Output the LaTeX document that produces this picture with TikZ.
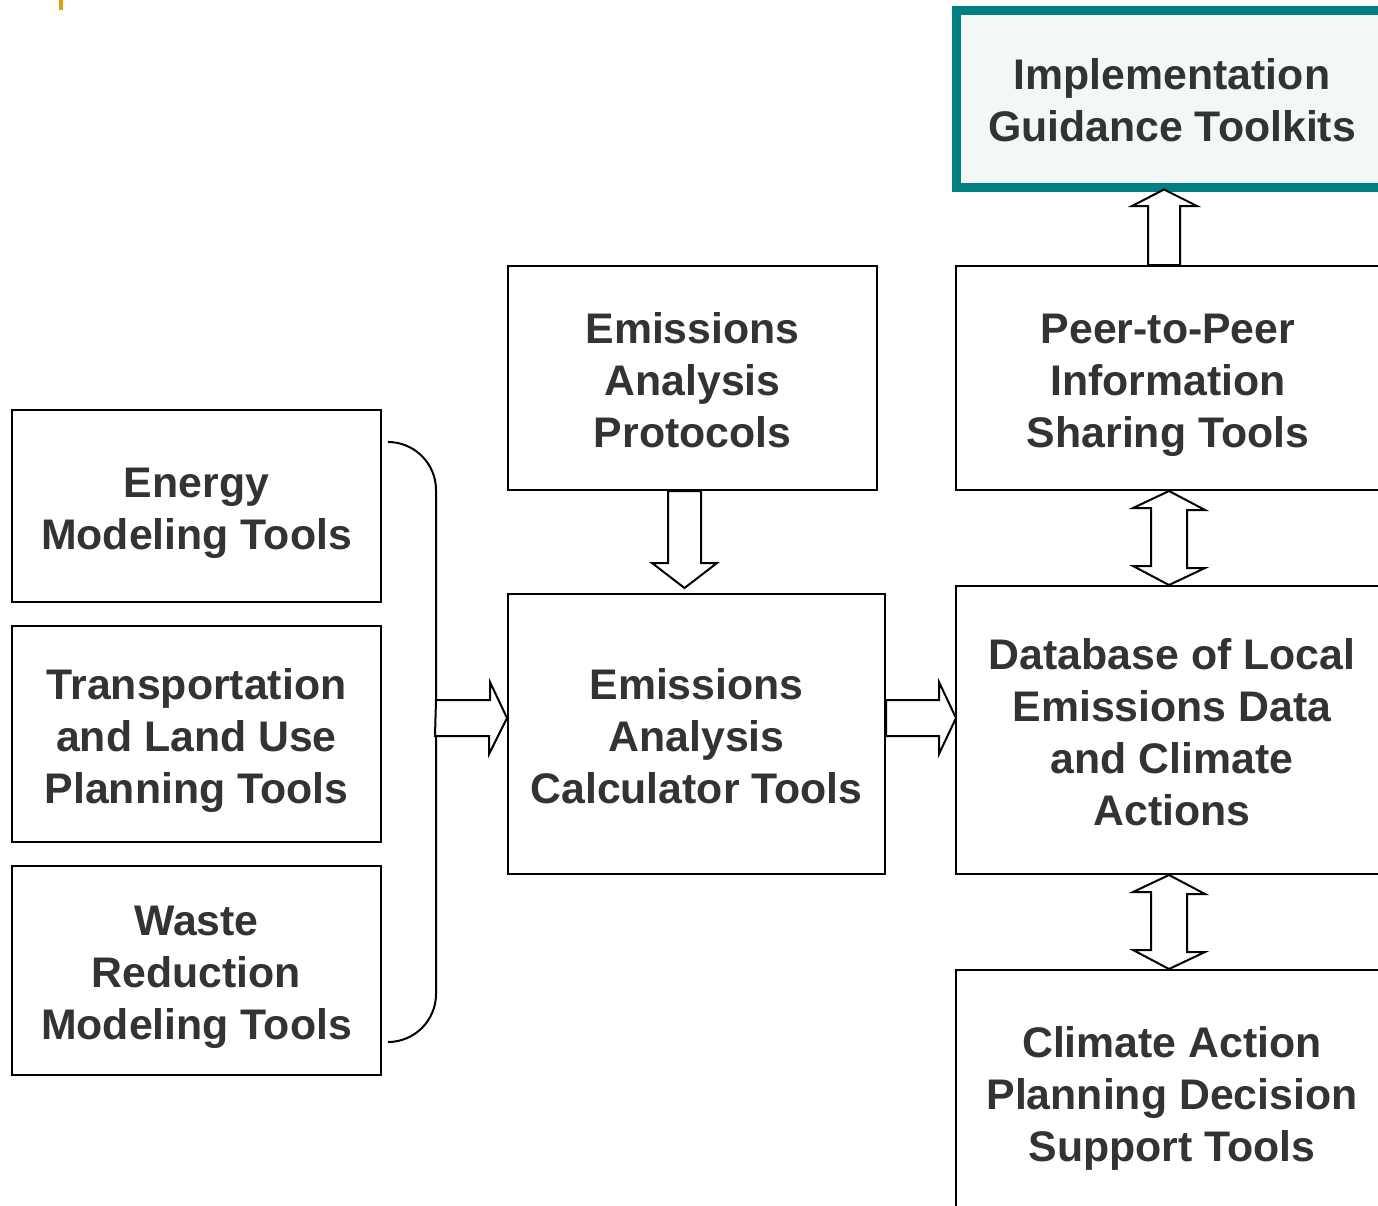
\documentclass[tikz,border=0pt]{standalone}
\usepackage{fontspec}
\setmainfont{Liberation Sans}
\usetikzlibrary{calc}
\definecolor{txtgray}{HTML}{333333}
\definecolor{tealb}{HTML}{008080}
\definecolor{tealfill}{HTML}{F2F8F8}
\definecolor{goldmark}{HTML}{D6A40C}
\newcommand{\topst}{\rule{0pt}{21.6pt}}
\newcommand{\botst}{\rule[-4.6pt]{0pt}{0pt}}
\tikzset{
  box/.style={draw=black, line width=1pt, fill=white, align=center, text=txtgray,
    font=\fontsize{21.4}{26}\selectfont\bfseries, inner sep=0pt},
  barrow/.style={draw=black, line width=1pt, fill=white, line join=miter},
  brk/.style={draw=black, line width=1pt}
}
\begin{document}
\begin{tikzpicture}[x=0.5pt, y=-0.5pt]
\useasboundingbox (0,0) rectangle (1378,1206);
\clip (0,0) rectangle (1378,1206);
\fill[white] (0,0) rectangle (1378,1206);
\fill[goldmark] (58.5,0) rectangle (62.5,10);

% left column
\node[box, minimum width=184.5pt, minimum height=96pt] (energy) at (196.5,506) {\topst Energy\\Modeling Tools\botst};
\node[box, minimum width=184.5pt, minimum height=108pt] (transp) at (196.5,734) {\topst Transportation\\and Land Use\\Planning Tools\botst};
\node[box, minimum width=184.5pt, minimum height=104.5pt] (waste) at (196.5,970.5) {\topst Waste\\Reduction\\Modeling Tools\botst};

% middle column
\node[box, minimum width=184.5pt, minimum height=112pt] (proto) at (692.5,378) {\topst Emissions\\Analysis\\Protocols\botst};
\node[box, minimum width=188.5pt, minimum height=140pt] (calc) at (696.5,734) {\topst Emissions\\Analysis\\Calculator Tools\botst};

% right column
\node[box, draw=tealb, line width=4.5pt, fill=tealfill, minimum width=215.5pt, minimum height=88.5pt] (impl) at (1172,98.5) {\topst Implementation\\Guidance Toolkits\botst};
\node[box, minimum width=212pt, minimum height=112pt] (peer) at (1168,378) {\topst Peer-to-Peer\\Information\\Sharing Tools\botst};
\node[box, minimum width=216pt, minimum height=144pt] (db) at (1172,730) {\topst Database of Local\\Emissions Data\\and Climate\\Actions\botst};
\node[box, minimum width=216pt, minimum height=122pt] (cap) at (1172,1092) {\topst Climate Action\\Planning Decision\\Support Tools\botst};

% bracket
\draw[brk] (388,442) .. controls (414.5,442) and (436,463.5) .. (436,490)
  -- (436,994) .. controls (436,1020.5) and (414.5,1042) .. (388,1042);
\coordinate (br) at (436,718);

% bracket -> calculator
\draw[barrow] (br) ++(0,-18) -- ++(54,0) -- ++(0,-18) -- ($(calc.west)+(0,-16)$)
  -- ($(calc.west)+(-18,20)$) -- ++(0,-18) -- ++(-54,0) -- cycle;

% calculator -> database
\draw[barrow] ($(calc.east)+(0,-34)$) -- ++(53,0) -- ++(0,-18) -- ($(db.west)+(1,-12)$)
  -- ($(calc.east)+(53,20)$) -- ++(0,-18) -- ++(-53,0) -- cycle;

% protocols -> calculator
\draw[barrow] ($(proto.south)+(-24.5,0)$) -- ++(0,72) -- ++(-16,0) -- ($(proto.south)+(-8,97)$)
  -- ($(proto.south)+(24.5,72)$) -- ++(-16,0) -- ++(0,-72) -- cycle;

% peer <-> database
\draw[barrow] ($(peer.south)+(1,0)$) -- ++(36,19) -- ++(-18,0) -- ++(0,58) -- ++(18,0)
  -- ($(db.north)+(-3,0)$) -- ++(-36,-19) -- ++(18,0) -- ++(0,-58) -- ++(-18,0) -- cycle;

% database <-> climate action
\draw[barrow] ($(db.south)+(-3,0)$) -- ++(36,19) -- ++(-18,0) -- ++(0,58) -- ++(18,0)
  -- ($(cap.north)+(-3,0)$) -- ++(-36,-19) -- ++(18,0) -- ++(0,-58) -- ++(-18,0) -- cycle;

% peer -> implementation
\draw[barrow] ($(peer.north)+(-20,0)$) -- ++(0,-59) -- ++(-16,0) -- ($(impl.south)+(-8,-2)$)
  -- ($(peer.north)+(29,-59)$) -- ++(-17,0) -- ++(0,59) -- cycle;
\end{tikzpicture}
\end{document}
